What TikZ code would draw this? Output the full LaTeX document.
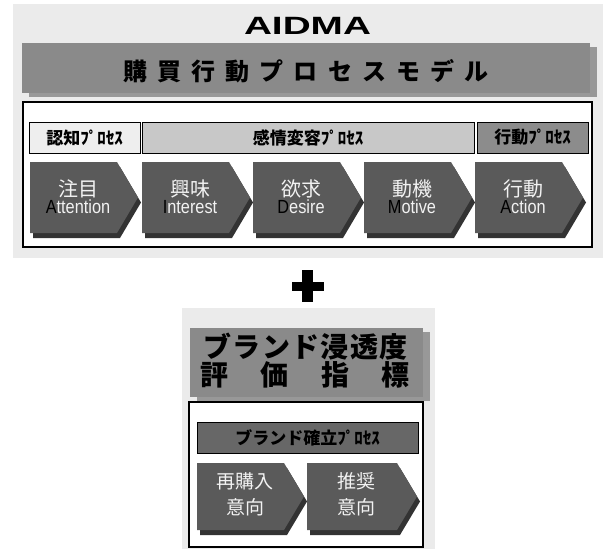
\documentclass[tikz,border=0pt]{standalone}
\usepackage{fontspec}
\setmainfont{Liberation Sans}
\newfontfamily\jp{Noto Sans CJK JP}
\usetikzlibrary{shadows}
\definecolor{panel}{HTML}{EBEBEB}
\definecolor{bar}{HTML}{8A8A8A}
\definecolor{arrowc}{HTML}{5A5A5A}
\definecolor{hlight}{HTML}{EEEEEE}
\definecolor{hmid}{HTML}{C8C8C8}
\definecolor{hdark}{HTML}{8C8C8C}
\definecolor{hbot}{HTML}{676767}
\definecolor{atext}{HTML}{F2F2F2}
\newlength\cpitch
\newcommand\cb[1]{\makebox[\cpitch]{#1}}
\newcommand\chevshape[5]{% left, top, tip, bottom, depth
  \fill[arrowc, arrowshadow] (#1,#2) -- ({#3-#5},#2) -- (#3,{(#2+#4)/2}) -- ({#3-#5},#4) -- (#1,#4) -- cycle;}
\tikzset{
  arrowshadow/.style={drop shadow={shadow xshift=3pt, shadow yshift=-5pt, fill=black, opacity=0.8}},
  barshadow/.style={drop shadow={shadow xshift=7pt, shadow yshift=-4pt, fill=black, opacity=0.35}},
  hdrbox/.style={draw=black, line width=0.6pt},
  hdrtext/.style={font=\jp\bfseries\fontsize{17}{19}\selectfont, text=black, inner sep=0pt},
  jptext/.style={font=\jp\fontsize{20}{22}\selectfont, text=atext, inner sep=0pt},
  entext/.style={font=\fontsize{19}{21}\selectfont, text=atext, inner sep=0pt},
  frame/.style={draw=black, line width=1.5pt, fill=white},
}
\newcommand\en[2]{\scalebox{0.86}[1]{\textcolor{black}{#1}#2}}
\begin{document}
\begin{tikzpicture}[x=1pt,y=-1pt]
\useasboundingbox (0,0) rectangle (603,549);
\fill[white] (0,0) rectangle (603,549);
% ---------- top panel ----------
\fill[panel] (13,4) rectangle (603,258);
\node (aidma) at (307.5,26) {\scalebox{1.55}[1]{\fontsize{25}{27}\selectfont\bfseries AIDMA}};
\fill[bar, barshadow] (22,43) rectangle (590,93);
\setlength\cpitch{34.2pt}
\node[font=\jp\bfseries\fontsize{24}{26}\selectfont, inner sep=0pt] (title) at (306,71)
  {\cb{購}\cb{買}\cb{行}\cb{動}\cb{プ}\cb{ロ}\cb{セ}\cb{ス}\cb{モ}\cb{デ}\cb{ル}};
\draw[frame] (23,102) rectangle (592,247);
% header row
\fill[hlight, hdrbox] (29,122) rectangle (140,153);
\fill[hmid, hdrbox] (142,122) rectangle (474,153);
\fill[hdark, hdrbox] (477,122) rectangle (588,153);
\node[hdrtext] (h1) at (84.5,137.5) {認知ﾌﾟﾛｾｽ};
\node[hdrtext] (h2) at (308,137.5) {感情変容ﾌﾟﾛｾｽ};
\node[hdrtext] (h3) at (532.5,137.5) {行動ﾌﾟﾛｾｽ};
% arrows
\chevshape{30}{162}{138}{233}{21}
\chevshape{142}{162}{250}{233}{21}
\chevshape{253}{162}{361}{233}{21}
\chevshape{364}{162}{472}{233}{21}
\chevshape{475}{162}{583}{233}{21}
\node[jptext] (j1) at (78,189) {注目};
\node[entext] (e1) at (78,207) {\en{A}{ttention}};
\node[jptext] (j2) at (190,189) {興味};
\node[entext] (e2) at (190,207) {\en{I}{nterest}};
\node[jptext] (j3) at (301,189) {欲求};
\node[entext] (e3) at (301,207) {\en{D}{esire}};
\node[jptext] (j4) at (412,189) {動機};
\node[entext] (e4) at (412,207) {\en{M}{otive}};
\node[jptext] (j5) at (523,189) {行動};
\node[entext] (e5) at (523,207) {\en{A}{ction}};
% ---------- plus ----------
\fill[black] (292,282) rectangle (324,291);
\fill[black] (302,270) rectangle (313,302);
% ---------- bottom panel ----------
\fill[panel] (182,308) rectangle (435,549);
\fill[bar, barshadow] (190,328) rectangle (423,397);
\setlength\cpitch{29.3pt}
\node[font=\jp\bfseries\fontsize{28}{30}\selectfont, inner sep=0pt] (bt1) at (305.5,347)
  {\cb{ブ}\cb{ラ}\cb{ン}\cb{ド}\cb{浸}\cb{透}\cb{度}};
\setlength\cpitch{60.3pt}
\node[font=\jp\bfseries\fontsize{28}{30}\selectfont, inner sep=0pt] (bt2) at (305,375)
  {\cb{評}\cb{価}\cb{指}\cb{標}};
\draw[frame] (189,402) rectangle (423,547);
\fill[hbot, hdrbox] (197,422) rectangle (418,453);
\node[hdrtext] (hb) at (307.5,437.5) {ブランド確立ﾌﾟﾛｾｽ};
\chevshape{197}{463}{304}{530}{20}
\chevshape{307}{463}{417}{530}{20}
\node[jptext, font=\jp\fontsize{19}{21}\selectfont] (b1a) at (245,481) {再購入};
\node[jptext, font=\jp\fontsize{19}{21}\selectfont] (b1b) at (245,507) {意向};
\node[jptext, font=\jp\fontsize{19}{21}\selectfont] (b2a) at (356,481) {推奨};
\node[jptext, font=\jp\fontsize{19}{21}\selectfont] (b2b) at (356,507) {意向};
\end{tikzpicture}
\end{document}
